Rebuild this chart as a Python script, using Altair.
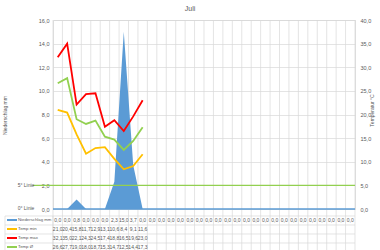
import altair as alt
import pandas as pd

days = list(range(1, 33))
precip = [0.0, 0.0, 0.8, 0.0, 0.0, 0.0, 2.3, 15.0, 3.7] + [0.0] * 23
temp_days = list(range(1, 11))
temp_min = [21.0, 20.4, 15.8, 11.7, 12.9, 13.1, 10.6, 8.4, 9.1, 11.6]
temp_max = [32.1, 35.0, 22.1, 24.3, 24.5, 17.4, 18.8, 16.5, 19.6, 23.0]
temp_avg = [26.6, 27.7, 19.0, 18.0, 18.7, 15.3, 14.7, 12.5, 14.4, 17.3]
series_names = ["Niederschlag mm", "Temp min", "Temp max", "Temp Ø"]
series_colors = ["#5B9BD5", "#FFC000", "#FF0000", "#92D050"]
left_ticks = [0, 2, 4, 6, 8, 10, 12, 14, 16]
right_ticks = [0, 5, 10, 15, 20, 25, 30, 35, 40]
five_line = 5
chart_title = "Juli"

FONT = "Liberation Sans"
TXT = "#595959"
GRID = "#D9D9D9"
W, H = 302, 189
comma = "replace(format(datum.value, '.1f'), '.', ',')"

pdf = pd.DataFrame({"day": days, "precip": precip})
tdf = pd.DataFrame({"day": temp_days, "Temp min": temp_min,
                    "Temp max": temp_max, "Temp Ø": temp_avg})
tlong = tdf.melt("day", var_name="series", value_name="temp")
bdf = pd.DataFrame({"b": [d - 0.5 for d in days] + [days[-1] + 0.5]})

xscale = alt.Scale(domain=[days[0] - 0.5, days[-1] + 0.5], nice=False)
fmt = "replace(format(datum.v, '.1f'), '.', ',')"

vgrid = alt.Chart(bdf).mark_rule(color=GRID, strokeWidth=0.7).encode(
    x=alt.X("b:Q", scale=xscale, axis=None),
    y=alt.value(0), y2=alt.value(232))

hl = pd.DataFrame({"yy": [196, 205, 214, 223, 232]})
hlines = alt.Chart(hl).mark_rule(color=GRID, strokeWidth=0.7).encode(
    x=alt.value(-48), x2=alt.value(W), y=alt.Y("yy:Q", scale=None, axis=None))
vleft = alt.Chart(pd.DataFrame({"xx": [-48, 0]})).mark_rule(color=GRID, strokeWidth=0.7).encode(
    x=alt.X("xx:Q", scale=None, axis=None), y=alt.value(196), y2=alt.value(232))

area = alt.Chart(pdf).mark_area(color=series_colors[0], opacity=1).encode(
    x=alt.X("day:Q", scale=xscale,
            axis=alt.Axis(values=days, grid=False, ticks=False, domain=False,
                          labelFontSize=5, labelColor=TXT, labelFont=FONT,
                          labelPadding=1, title=None, labelFlush=False)),
    y=alt.Y("precip:Q", scale=alt.Scale(domain=[0, 16], nice=False),
            axis=alt.Axis(values=left_ticks, labelExpr=comma, grid=True,
                          gridColor=GRID, gridWidth=0.7, domain=False, ticks=False,
                          labelFontSize=5.5, labelColor=TXT, labelFont=FONT,
                          labelPadding=4, title="Niederschlag mm",
                          titleFontSize=5, titleFontWeight="normal",
                          titleColor=TXT, titleFont=FONT, titleX=-46, titleY=95)))

lines = alt.Chart(tlong).mark_line(strokeWidth=1.8).encode(
    x=alt.X("day:Q", scale=xscale),
    y=alt.Y("temp:Q", scale=alt.Scale(domain=[0, 40], nice=False),
            axis=alt.Axis(orient="right", values=right_ticks, labelExpr=comma,
                          grid=False, domain=False, ticks=False,
                          labelFontSize=5.5, labelColor=TXT, labelFont=FONT,
                          labelPadding=5, title="Temperatur °C",
                          titleFontSize=5, titleFontWeight="normal",
                          titleColor=TXT, titleFont=FONT, titleAngle=270,
                          titleX=19, titleY=90)),
    color=alt.Color("series:N", scale=alt.Scale(domain=series_names[1:],
                                                  range=series_colors[1:]),
                    legend=None),
    detail="series:N")

line5 = alt.Chart(pd.DataFrame({"t": [five_line]})).mark_rule(
    color="#92D050", strokeWidth=1.2).encode(
    y=alt.Y("t:Q", scale=alt.Scale(domain=[0, 40], nice=False), axis=None),
    x=alt.value(-20), x2=alt.value(W))
line0 = alt.Chart(pd.DataFrame({"t": [0]})).mark_rule(
    color="#5B9BD5", strokeWidth=1.5).encode(
    y=alt.Y("t:Q", scale=alt.Scale(domain=[0, 40], nice=False), axis=None),
    x=alt.value(0), x2=alt.value(W))

lab = pd.DataFrame({"txt": ["5° Linie", "0° Linie"], "yy": [165, 188]})
labels = alt.Chart(lab).mark_text(fontSize=5, color=TXT, font=FONT,
                                  align="center", baseline="middle").encode(
    text="txt:N", x=alt.value(-27), y=alt.Y("yy:Q", scale=None, axis=None))

title_mark = alt.Chart(pd.DataFrame({"t": [chart_title]})).mark_text(
    fontSize=7, color=TXT, font=FONT, align="center", baseline="middle").encode(
    text="t:N", x=alt.value(137), y=alt.value(-11))

rows_y = [200, 209, 218, 227]
tables = []
pdf_t = pdf.assign(v=pdf["precip"])
tables.append(alt.Chart(pdf_t).transform_calculate(lbl=fmt).mark_text(
    fontSize=5, color=TXT, font=FONT, baseline="middle").encode(
    x=alt.X("day:Q", scale=xscale), y=alt.value(rows_y[0]), text="lbl:N"))
for i, s in enumerate(series_names[1:]):
    d = tdf[["day", s]].rename(columns={s: "v"})
    tables.append(alt.Chart(d).transform_calculate(lbl=fmt).mark_text(
        fontSize=5, color=TXT, font=FONT, baseline="middle").encode(
        x=alt.X("day:Q", scale=xscale), y=alt.value(rows_y[i + 1]), text="lbl:N"))

leg = pd.DataFrame({"name": series_names, "col": series_colors, "yy": rows_y})
keys = alt.Chart(leg).mark_rule(strokeWidth=2).encode(
    x=alt.value(-46), x2=alt.value(-36),
    y=alt.Y("yy:Q", scale=None, axis=None),
    color=alt.Color("col:N", scale=None))
names = alt.Chart(leg).mark_text(fontSize=4.3, color=TXT, font=FONT, align="left",
                                 baseline="middle").encode(
    x=alt.value(-35), y=alt.Y("yy:Q", scale=None, axis=None), text="name:N")

chart = alt.layer(vgrid, hlines, vleft, area, line5, line0, lines, labels,
                  title_mark, *tables, keys, names).resolve_scale(
    y="independent", color="independent").properties(
    width=W, height=H,
    autosize=alt.AutoSizeParams(type="none"),
    padding={"left": 53, "top": 20, "right": 25, "bottom": 41}
).configure_view(stroke=None).configure(background="white")

chart.save("out.html", embed_options={"renderer": "svg", "actions": False})
